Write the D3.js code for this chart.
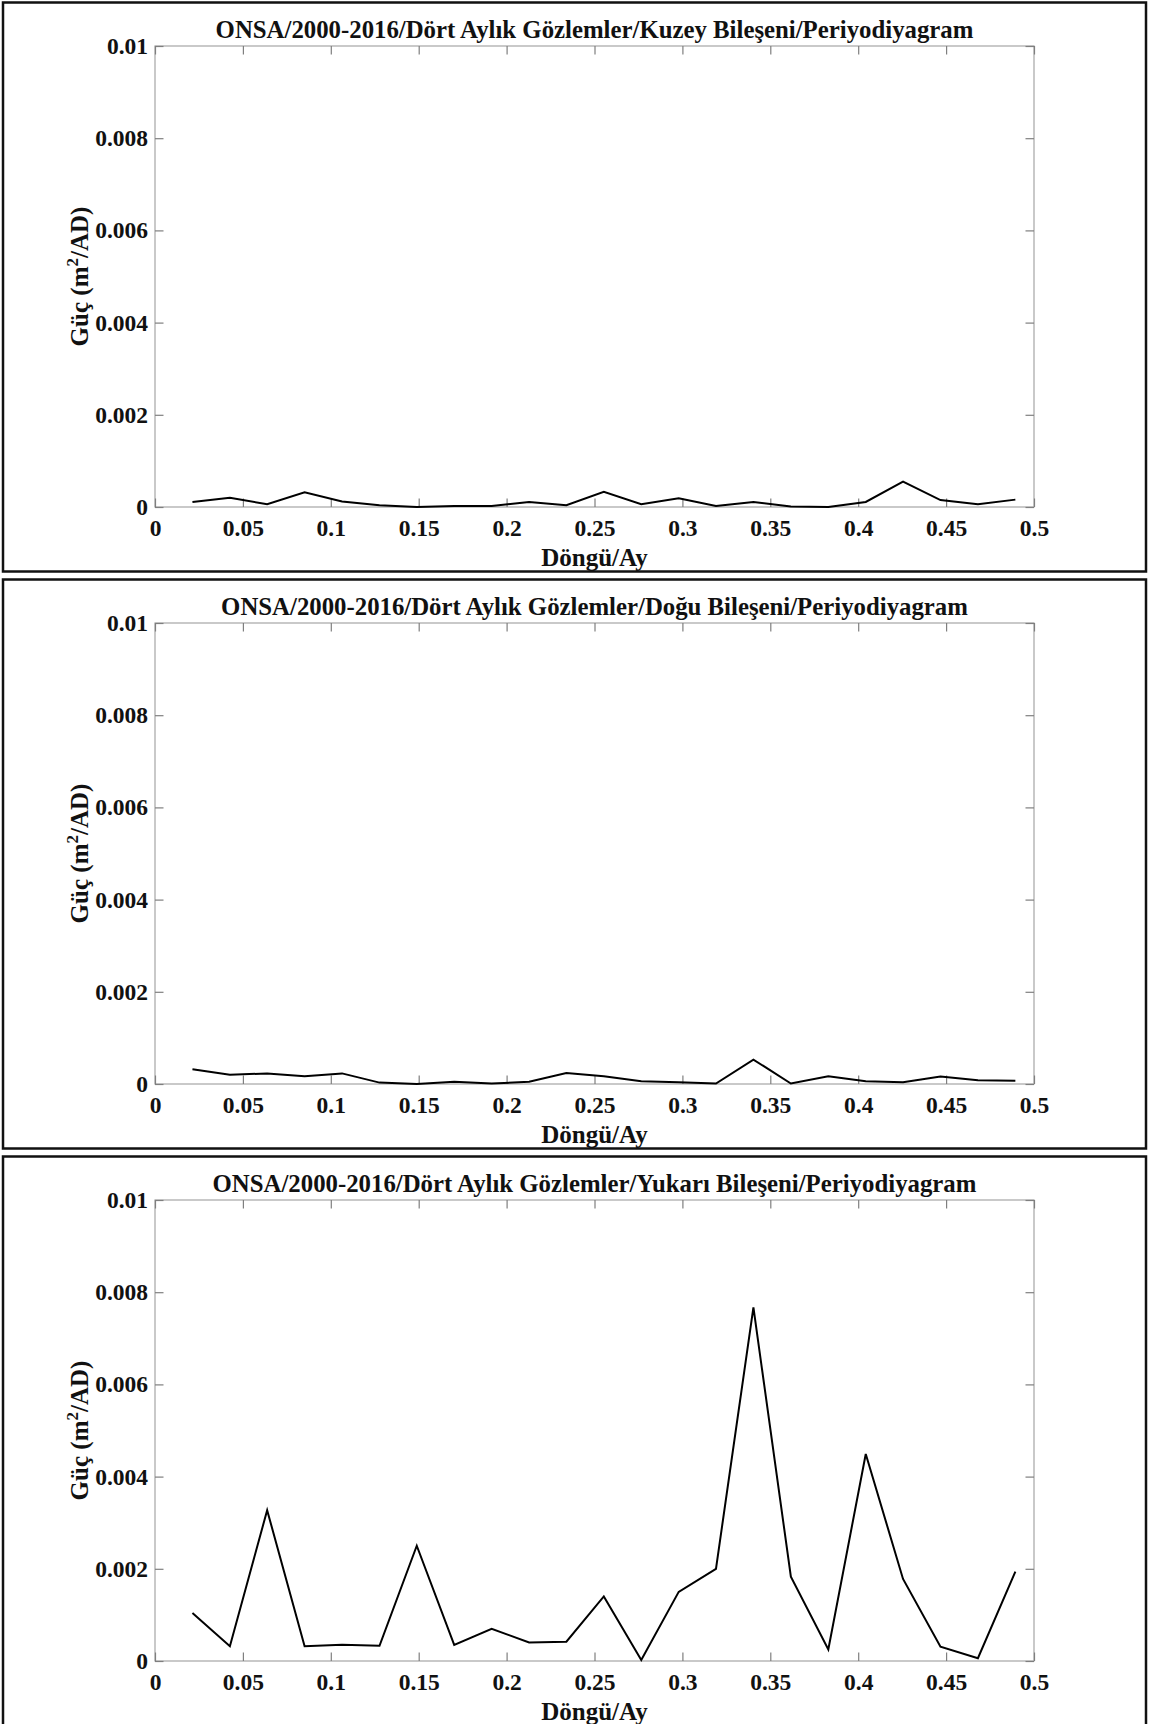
<!DOCTYPE html>
<html>
<head>
<meta charset="utf-8">
<script src="https://cdn.jsdelivr.net/npm/d3@7"></script>
<style>
  html, body { margin: 0; padding: 0; background: #fff; }
  svg { display: block; }
  text { font-family: "Liberation Serif", "Times New Roman", serif; font-weight: bold; fill: #111; }
</style>
</head>
<body>
<svg id="chart" width="1150" height="1724"></svg>
<script>
// Frequencies (cycles per month) of the periodogram ordinates
const freqs = [0.0213, 0.0426, 0.0638, 0.0851, 0.1064, 0.1277, 0.1489, 0.1702, 0.1915, 0.2128, 0.2340, 0.2553,
               0.2766, 0.2979, 0.3191, 0.3404, 0.3617, 0.3830, 0.4043, 0.4255, 0.4468, 0.4681, 0.4894];

// Power (m^2 per cycle/month) for each component
const north = [0.00011, 0.00020, 0.00006, 0.00032, 0.00012, 0.00004, 0.00000, 0.00002, 0.00002, 0.00011, 0.00004, 0.00033,
               0.00006, 0.00019, 0.00002, 0.00011, 0.00001, 0.00000, 0.00011, 0.00055, 0.00015, 0.00006, 0.00016];
const east  = [0.00032, 0.00020, 0.00023, 0.00017, 0.00023, 0.00003, 0.00000, 0.00005, 0.00001, 0.00005, 0.00024, 0.00017,
               0.00006, 0.00004, 0.00001, 0.00053, 0.00001, 0.00017, 0.00006, 0.00004, 0.00016, 0.00008, 0.00007];
const up    = [0.00104, 0.00032, 0.00327, 0.00032, 0.00035, 0.00033, 0.00250, 0.00035, 0.00070, 0.00040, 0.00042, 0.00140,
               0.00002, 0.00150, 0.00200, 0.00767, 0.00183, 0.00025, 0.00449, 0.00178, 0.00031, 0.00006, 0.00194];

const titles = [
  "ONSA/2000-2016/Dört Aylık Gözlemler/Kuzey Bileşeni/Periyodiyagram",
  "ONSA/2000-2016/Dört Aylık Gözlemler/Doğu Bileşeni/Periyodiyagram",
  "ONSA/2000-2016/Dört Aylık Gözlemler/Yukarı Bileşeni/Periyodiyagram"
];
const series = [north, east, up];

const xTicks = [0, 0.05, 0.1, 0.15, 0.2, 0.25, 0.3, 0.35, 0.4, 0.45, 0.5];
const xTickLabels = ["0", "0.05", "0.1", "0.15", "0.2", "0.25", "0.3", "0.35", "0.4", "0.45", "0.5"];
const yTicks = [0, 0.002, 0.004, 0.006, 0.008, 0.01];
const yTickLabels = ["0", "0.002", "0.004", "0.006", "0.008", "0.01"];
const xLabel = "Döngü/Ay";

const svg = d3.select("#chart");

const panelH = 577;
const plotL = 155, plotR = 1034, plotT = 46, plotB = 507;
const tickLen = 8.5;
const boxColor = "#a6a6a6";
const tickColor = "#7f7f7f";
const tickFont = 23.5;
const labelFont = 25;

const x = d3.scaleLinear().domain([0, 0.5]).range([plotL, plotR]);
const y = d3.scaleLinear().domain([0, 0.01]).range([plotB, plotT]);

function styleTickText(sel) {
  sel.attr("font-size", tickFont).attr("fill", "#111")
    .style("font-family", "'Liberation Serif', serif").style("font-weight", "bold");
}

series.forEach((vals, i) => {
  const g = svg.append("g").attr("transform", `translate(0,${i * panelH})`);

  // panel frame
  g.append("rect")
    .attr("x", 3).attr("y", 2.5)
    .attr("width", 1143).attr("height", 569)
    .attr("fill", "none").attr("stroke", "#111").attr("stroke-width", 2.5);

  // plot box
  g.append("rect")
    .attr("x", plotL).attr("y", plotT)
    .attr("width", plotR - plotL).attr("height", plotB - plotT)
    .attr("fill", "none").attr("stroke", boxColor).attr("stroke-width", 1.2);

  // bottom axis: inward ticks + labels
  const xb = g.append("g").attr("transform", `translate(0,${plotB})`)
    .call(d3.axisBottom(x).tickValues(xTicks).tickSizeInner(-tickLen).tickSizeOuter(0)
      .tickPadding(12).tickFormat((d, j) => xTickLabels[j]));
  xb.select(".domain").remove();
  xb.selectAll(".tick line").attr("stroke", tickColor).attr("stroke-width", 1.2);
  styleTickText(xb.selectAll(".tick text"));

  // top axis: ticks only
  const xt = g.append("g").attr("transform", `translate(0,${plotT})`)
    .call(d3.axisTop(x).tickValues(xTicks).tickSizeInner(-tickLen).tickSizeOuter(0).tickFormat(""));
  xt.select(".domain").remove();
  xt.selectAll(".tick line").attr("stroke", tickColor).attr("stroke-width", 1.2);

  // left axis: inward ticks + labels
  const yl = g.append("g").attr("transform", `translate(${plotL},0)`)
    .call(d3.axisLeft(y).tickValues(yTicks).tickSizeInner(-tickLen).tickSizeOuter(0)
      .tickPadding(7).tickFormat((d, j) => yTickLabels[j]));
  yl.select(".domain").remove();
  yl.selectAll(".tick line").attr("stroke", tickColor).attr("stroke-width", 1.2);
  styleTickText(yl.selectAll(".tick text"));

  // right axis: ticks only
  const yr = g.append("g").attr("transform", `translate(${plotR},0)`)
    .call(d3.axisRight(y).tickValues(yTicks).tickSizeInner(-tickLen).tickSizeOuter(0).tickFormat(""));
  yr.select(".domain").remove();
  yr.selectAll(".tick line").attr("stroke", tickColor).attr("stroke-width", 1.2);

  // periodogram line
  const line = d3.line().x((d, j) => x(freqs[j])).y(d => y(d));
  g.append("path").datum(vals)
    .attr("d", line)
    .attr("fill", "none").attr("stroke", "#000").attr("stroke-width", 2)
    .attr("stroke-linejoin", "miter");

  // title
  g.append("text")
    .attr("x", (plotL + plotR) / 2).attr("y", 38)
    .attr("text-anchor", "middle").attr("font-size", 24.8)
    .text(titles[i]);

  // x axis label
  g.append("text")
    .attr("x", (plotL + plotR) / 2).attr("y", 566)
    .attr("text-anchor", "middle").attr("font-size", labelFont)
    .text(xLabel);

  // y axis label with superscript
  const yt = g.append("text")
    .attr("transform", `translate(88,${(plotT + plotB) / 2}) rotate(-90)`)
    .attr("text-anchor", "middle").attr("font-size", labelFont);
  yt.append("tspan").text("Güç (m");
  yt.append("tspan").attr("dy", -10).attr("font-size", 17).text("2");
  yt.append("tspan").attr("dy", 10).text("/AD)");
});
</script>
</body>
</html>
